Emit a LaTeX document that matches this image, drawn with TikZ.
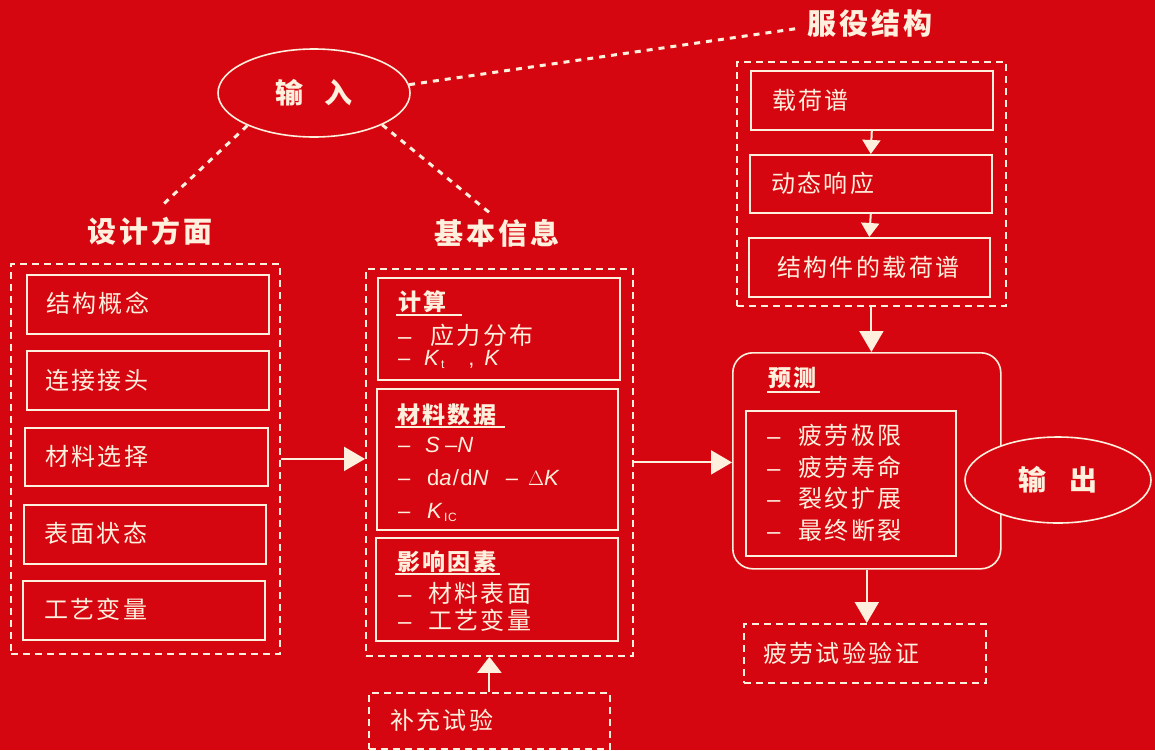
\documentclass[tikz,border=0pt]{standalone}
\usepackage{fontspec}
\setmainfont{Noto Sans CJK SC}[LetterSpace=10]
\newfontfamily\lat{Liberation Sans}[LetterSpace=6]
\usetikzlibrary{arrows.meta,shapes.geometric}
\definecolor{bg}{RGB}{214,6,16}
\definecolor{fg}{RGB}{255,240,222}
\begin{document}
\begin{tikzpicture}[x=1pt,y=-1pt,
  box/.style={draw=fg,line width=1.6pt,rectangle,anchor=north west,inner sep=0pt},
  cont/.style={draw=fg,line width=1.8pt,dash pattern=on 7pt off 5pt,rectangle,anchor=north west,inner sep=0pt},
  dotl/.style={draw=fg,line width=3pt,dash pattern=on 6pt off 6pt},
  txt/.style={text=fg,font=\fontsize{24}{28}\selectfont,anchor=west,inner sep=0pt},
  ttl/.style={text=fg,font=\bfseries\fontsize{29}{34}\selectfont,inner sep=0pt},
  sub/.style={text=fg,font=\bfseries\fontsize{23}{28}\selectfont,anchor=west,inner sep=0pt},
  lt/.style={text=fg,font=\lat\fontsize{22}{24}\selectfont,anchor=west,inner sep=0pt},
  uline/.style={draw=fg,line width=1.5pt},
  big/.style={draw=fg,line width=2pt,-{Triangle[length=21pt,width=24pt]}},
  sml/.style={draw=fg,line width=2pt,-{Triangle[length=14pt,width=18pt]}},
]
\fill[bg] (0,0) rectangle (1155,750);

% ---------- input ellipse and headings ----------
\node[ellipse,draw=fg,line width=1.6pt,minimum width=192pt,minimum height=88pt,inner sep=0pt,
      text=fg,font=\bfseries\fontsize{28}{32}\selectfont] (in) at (314,93) {输\hspace{0.75em}入};
\node[ttl] (dsg) at (150,231) {设计方面};
\node[ttl] (bas) at (497,233) {基本信息};
\node[ttl] (svc) at (870,23) {服役结构};
\draw[dotl,shorten >=14pt] (in.206) -- (dsg.north);
\draw[dotl,shorten >=8pt] (in.-25) -- (bas.north);
\draw[dotl,shorten >=10pt] (in.5) -- ([yshift=-4pt]svc.west);

% ---------- design column ----------
\node[cont,minimum width=269pt,minimum height=390pt] (dcont) at (10,263) {};
\node[box,minimum width=242pt,minimum height=59pt] (d1) at (26,274) {};
\node[box,minimum width=242pt,minimum height=59pt] (d2) at (26,350) {};
\node[box,minimum width=243pt,minimum height=58pt] (d3) at (24,427) {};
\node[box,minimum width=242pt,minimum height=59pt] (d4) at (23,504) {};
\node[box,minimum width=242pt,minimum height=59pt] (d5) at (22,580) {};
\node[txt] (d1t) at (46,303) {结构概念};
\node[txt] (d2t) at (45,380) {连接接头};
\node[txt] (d3t) at (45,456) {材料选择};
\node[txt] (d4t) at (44,533) {表面状态};
\node[txt] (d5t) at (44,609) {工艺变量};

% ---------- basic information column ----------
\node[cont,minimum width=267pt,minimum height=387pt] (bcont) at (365,268) {};
\node[box,minimum width=242pt,minimum height=102pt] (b1) at (377,277) {};
\node[box,minimum width=241pt,minimum height=141pt] (b2) at (376,388) {};
\node[box,minimum width=242pt,minimum height=103pt] (b3) at (375,537) {};

\node[sub] (b1h) at (398,302) {计算};
\draw[uline] (396,315) -- (462,315);
\node[txt] (b1a) at (398,335) {\makebox[32pt][l]{\lat –}应力分布};
\node[lt] (b1b) at (398,359) {\makebox[26pt][l]{–}\textit{K}\raisebox{-3pt}{\fontsize{12}{12}\selectfont t}\hspace{24pt},\hspace{10pt}\textit{K}};

\node[sub] (b2h) at (397,415) {材料数据};
\draw[uline] (395,427) -- (505,427);
\node[lt] (b2a) at (398,445) {\makebox[27pt][l]{–}\textit{S}\hspace{4pt}–\textit{N}};
\node[lt] (b2b) at (398,478) {\makebox[29pt][l]{–}d\textit{a}/d\textit{N}\hspace{16pt}–\hspace{10pt}$\Delta$\textit{K}};
\node[lt] (b2c) at (398,512) {\makebox[29pt][l]{–}\textit{K}\raisebox{-3pt}{\fontsize{12}{12}\selectfont IC}};

\node[sub] (b3h) at (397,562) {影响因素};
\draw[uline] (395,574) -- (500,574);
\node[txt] (b3a) at (398,593) {\makebox[30pt][l]{\lat –}材料表面};
\node[txt] (b3b) at (398,620) {\makebox[30pt][l]{\lat –}工艺变量};

% ---------- supplementary tests ----------
\node[cont,minimum width=241pt,minimum height=56pt] (sup) at (368,692) {};
\node[txt] (supt) at (390,720) {补充试验};

% ---------- service structure ----------
\node[cont,minimum width=269pt,minimum height=244pt] (rcont) at (736,61) {};
\node[box,minimum width=242pt,minimum height=59pt] (r1) at (750,70) {};
\node[box,minimum width=242pt,minimum height=58pt] (r2) at (749,154) {};
\node[box,minimum width=241pt,minimum height=59pt] (r3) at (748,237) {};
\node[txt] (r1t) at (772,100) {载荷谱};
\node[txt] (r2t) at (771,183) {动态响应};
\node[txt] (r3t) at (777,267) {结构件的载荷谱};

% ---------- prediction ----------
\node[draw=fg,line width=1.6pt,rounded corners=20pt,anchor=north west,inner sep=0pt,
      minimum width=268pt,minimum height=216pt] (pred) at (732,352) {};
\node[sub] (pt) at (768,378) {预测};
\draw[uline] (767,392) -- (820,392);
\node[box,minimum width=210pt,minimum height=145pt] (pin) at (745,410) {};
\node[txt] (p1) at (767,435) {\makebox[31pt][l]{\lat –}疲劳极限};
\node[txt] (p2) at (767,467) {\makebox[31pt][l]{\lat –}疲劳寿命};
\node[txt] (p3) at (767,498) {\makebox[31pt][l]{\lat –}裂纹扩展};
\node[txt] (p4) at (767,530) {\makebox[31pt][l]{\lat –}最终断裂};

\node[ellipse,draw=fg,fill=bg,line width=1.6pt,minimum width=186pt,minimum height=86pt,inner sep=0pt,
      text=fg,font=\bfseries\fontsize{28}{32}\selectfont] (out) at (1058,480) {输\hspace{0.8em}出};

% ---------- verification ----------
\node[cont,minimum width=242pt,minimum height=59pt] (ver) at (743,623) {};
\node[txt] (vert) at (763,653) {疲劳试验验证};

% ---------- arrows ----------
\draw[big] (dcont.east) -- (dcont.east -| bcont.west);
\draw[big] (bcont.east) -- (bcont.east -| pred.west);
\draw[sml] (r1.south) -- (r2.north);
\draw[sml] (r2.south) -- (r3.north);
\draw[big] (rcont.south) -- (rcont.south |- pred.north);
\draw[big] (pred.south) -- (pred.south |- ver.north);
\draw[draw=fg,line width=2pt,-{Triangle[length=16pt,width=24pt]}] (sup.north) -- (sup.north |- bcont.south);
\end{tikzpicture}
\end{document}
